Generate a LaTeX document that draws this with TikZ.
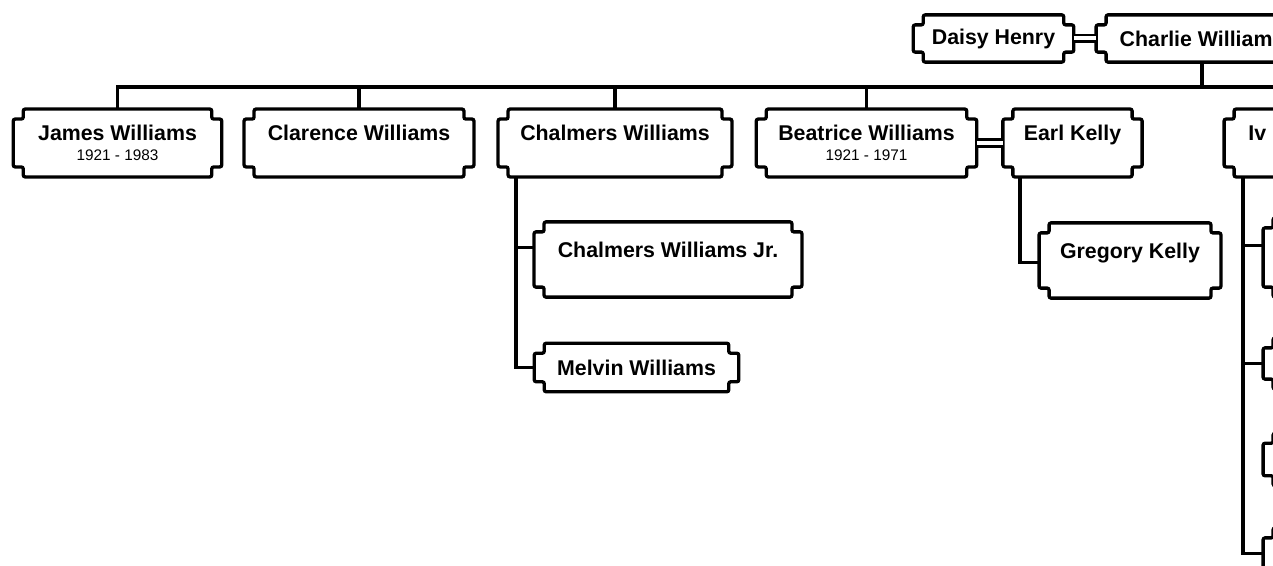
\documentclass[tikz,border=0pt]{standalone}
\usepackage{fontspec}
\setmainfont{Liberation Sans}
\usetikzlibrary{calc}
\tikzstyle{card}=[inner sep=0pt, align=center, font=\bfseries\fontsize{16}{18}\selectfont]
\tikzstyle{frame}=[line width=2.5pt, rounded corners=1.5pt]
\tikzstyle{wire}=[line width=2.5pt]
\tikzstyle{spouse}=[line width=1.9pt, double, double distance=3pt]
\newcommand{\yrs}[1]{{\fontsize{11.5}{13}\mdseries\selectfont #1}}

\begin{document}
\begin{tikzpicture}[x=0.75pt, y=-0.75pt]
	\useasboundingbox (0,0) rectangle (1273,566);
	\clip (0,0) rectangle (1273,566);

	\node[card, minimum width=120pt, minimum height=35pt] (daisy) at (993.5, 38.5) {Daisy Henry};
	\node[card, minimum width=158.5pt, minimum height=35pt] (charlie) at (1202, 38.5) {Charlie Williams};

	\node[card, minimum width=156pt, minimum height=50.5pt] (james) at (117.5, 143) {James Williams\\[-3pt]\yrs{1921 - 1983}};
	\node[card, minimum width=172pt, minimum height=50.5pt] (clarence) at (359, 143) {Clarence Williams\\[-3pt]\yrs{\phantom{1}}};
	\node[card, minimum width=175pt, minimum height=50.5pt] (chalmers) at (615, 143) {Chalmers Williams\\[-3pt]\yrs{\phantom{1}}};
	\node[card, minimum width=165pt, minimum height=50.5pt] (beatrice) at (866.5, 143) {Beatrice Williams\\[-3pt]\yrs{1921 - 1971}};
	\node[card, minimum width=104pt, minimum height=50.5pt] (earl) at (1072.5, 143) {Earl Kelly\\[-3pt]\yrs{\phantom{1}}};
	\node[card, minimum width=148pt, minimum height=50.5pt, text width=112pt, align=left, inner xsep=18pt] (iv) at (1323, 143) {Iv\\[-3pt]\yrs{\phantom{1}}};

	\node[card, minimum width=200.5pt, minimum height=56pt] (chjr) at (668, 259.5) {Chalmers Williams Jr.\\[-3pt]\yrs{\phantom{1}}};
	\node[card, minimum width=153pt, minimum height=36pt] (melvin) at (636.5, 367.5) {Melvin Williams};
	\node[card, minimum width=136pt, minimum height=56pt] (gregory) at (1130, 260.5) {Gregory Kelly\\[-3pt]\yrs{\phantom{1}}};

	\node[card, minimum width=148pt, minimum height=59pt] (r1) at (1362, 257.5) {};
	\node[card, minimum width=148pt, minimum height=38pt] (r2) at (1362, 363.5) {};
	\node[card, minimum width=148pt, minimum height=39pt] (r3) at (1362, 459.5) {};
	\node[card, minimum width=148pt, minimum height=38pt] (r4) at (1362, 553.5) {};

	% notched outlines
	\foreach \k in {daisy,charlie,james,clarence,chalmers,beatrice,earl,iv,chjr,melvin,gregory,r1,r2,r3,r4}
		\draw[frame] ($(\k.north west)+(10,0)$) -- ($(\k.north east)+(-10,0)$) -- ++(0,10) -- ++(10,0)
			-- ($(\k.south east)+(0,-10)$) -- ++(-10,0) -- ++(0,10) -- ($(\k.south west)+(10,0)$)
			-- ++(0,-10) -- ++(-10,0) -- ($(\k.north west)+(0,10)$) -- ++(10,0) -- cycle;

	\draw[spouse] (daisy) -- (charlie);
	\draw[spouse] (beatrice) -- (earl);

	\coordinate (bar) at (1300, 87);
	\draw[wire] (james.north) |- (bar);
	\draw[wire] (clarence.north) -- (clarence.north |- bar);
	\draw[wire] (chalmers.north) -- (chalmers.north |- bar);
	\draw[wire] (beatrice.north) -- (beatrice.north |- bar);
	\draw[wire] (charlie.south) -- (charlie.south |- bar);

	\draw[wire] ($(chalmers.south west)+(18,0)$) |- ($(chjr.west)+(0,-12)$);
	\draw[wire] ($(chalmers.south west)+(18,0)$) |- (melvin.west);
	\draw[wire] ($(earl.south west)+(17,0)$) |- ($(gregory.west)+(0,2)$);
	\draw[wire] ($(iv.south west)+(19,0)$) |- ($(r1.west)+(0,-12)$);
	\draw[wire] ($(iv.south west)+(19,0)$) |- (r2.west);
	\draw[wire] ($(iv.south west)+(19,0)$) |- (r4.west);
\end{tikzpicture}
\end{document}
